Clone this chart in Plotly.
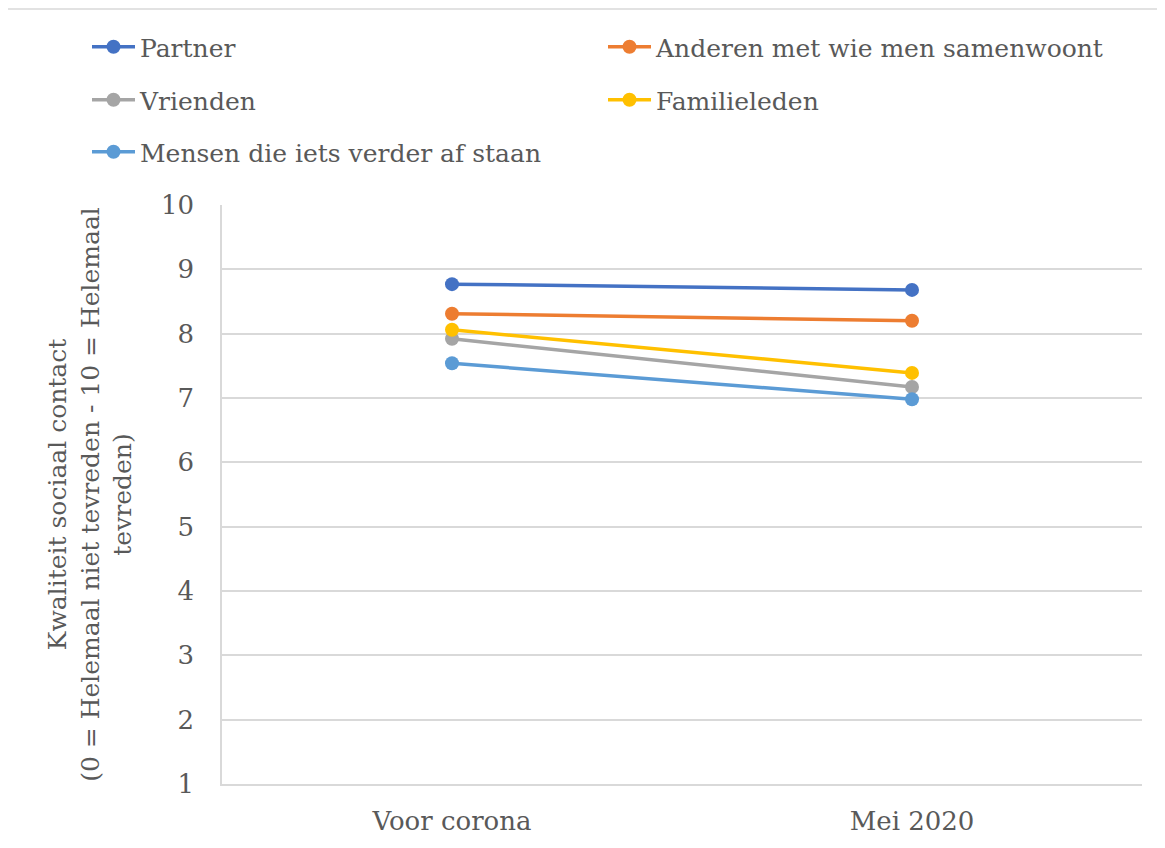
import plotly.graph_objects as go

categories = ["Voor corona", "Mei 2020"]
series_names = ["Partner", "Anderen met wie men samenwoont", "Vrienden", "Familieleden",
                "Mensen die iets verder af staan"]
partner = [8.77, 8.68]
anderen = [8.31, 8.20]
vrienden = [7.92, 7.17]
familie = [8.06, 7.39]
mensen = [7.54, 6.98]
values = [partner, anderen, vrienden, familie, mensen]
colors = ["#4472C4", "#ED7D31", "#A5A5A5", "#FFC000", "#5B9BD5"]
legend_ids = ["legend", "legend", "legend2", "legend2", "legend3"]
y_ticks = list(range(1, 11))

FONT = "DejaVu Serif"
TXT = "#595959"

fig = go.Figure()
for name, vals, col, lg in zip(series_names, values, colors, legend_ids):
    fig.add_trace(go.Scatter(
        x=categories, y=vals, name=name, mode="lines+markers",
        line=dict(color=col, width=3.5),
        marker=dict(color=col, size=14),
        legend=lg,
    ))

OFF = 8  # page offset of the plot div
W, H = 1165 - OFF, 848 - OFF
SL, SR, ST, SB = 222, 1142, 205, 784
L, T = SL - OFF, ST - OFF
R = W - (SR - OFF)
B = H - (SB - OFF)
pw = W - L - R
ph = H - T - B


def px_x(s):
    return (s - OFF - L) / pw


def px_y(s):
    return (H - B - (s - OFF)) / ph


leg_common = dict(orientation="h", font=dict(family=FONT, size=25, color=TXT),
                  entrywidth=458, entrywidthmode="pixels", itemwidth=43,
                  xanchor="left", yanchor="middle", bgcolor="rgba(0,0,0,0)",
                  tracegroupgap=0)

fig.update_layout(
    width=W, height=H,
    margin=dict(l=L, r=R, t=T, b=B, autoexpand=False),
    paper_bgcolor="white", plot_bgcolor="white",
    font=dict(family=FONT, size=26, color=TXT),
    legend=dict(x=px_x(87), y=px_y(47), **leg_common),
    legend2=dict(x=px_x(87), y=px_y(100), **leg_common),
    legend3=dict(x=px_x(87), y=px_y(152), **leg_common),
    xaxis=dict(
        type="category", range=[-0.5, 1.5], showgrid=False,
        showline=True, linecolor="#D9D9D9", linewidth=1.5,
        tickfont=dict(family=FONT, size=26, color=TXT),
        ticks="", ticklabelstandoff=13,
        zeroline=False,
    ),
    yaxis=dict(
        range=[1, 10], tickvals=y_ticks, showgrid=True, gridcolor="#D9D9D9", gridwidth=1.5,
        showline=True, linecolor="#D9D9D9", linewidth=1.5, zeroline=False,
        tickfont=dict(family=FONT, size=26, color=TXT), ticks="", ticklabelstandoff=21,
        title=dict(
            text="Kwaliteit sociaal contact<br>(0 = Helemaal niet tevreden - 10 = Helemaal<br>tevreden)",
            font=dict(family=FONT, size=25, color=TXT), standoff=22,
        ),
    ),
    shapes=[dict(type="rect", xref="paper", yref="paper",
                 x0=px_x(5), x1=px_x(1163), y0=px_y(870), y1=px_y(9),
                 line=dict(color="#D9D9D9", width=1.5), fillcolor="rgba(0,0,0,0)",
                 layer="below")],
)

fig.write_html("out.html")
